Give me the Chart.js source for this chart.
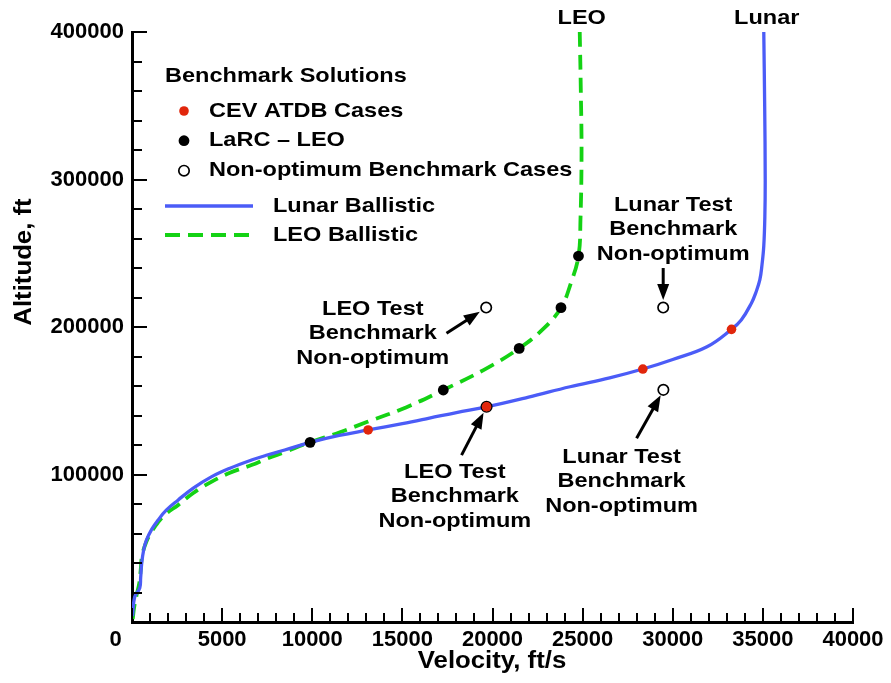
<!DOCTYPE html>
<html>
<head>
<meta charset="utf-8">
<script src="https://cdn.jsdelivr.net/npm/chart.js@4.4.1/dist/chart.umd.min.js"></script>
<style>
  html, body { margin: 0; padding: 0; background: #fff; }
  canvas { display: block; }
</style>
</head>
<body>
<canvas id="chart" width="891" height="683"></canvas>
<script>
// ---- Axis ticks ----
const velocityTicks = [0, 5000, 10000, 15000, 20000, 25000, 30000, 35000, 40000];
const altitudeTicks = [100000, 200000, 300000, 400000];

// ---- Lunar ballistic trajectory (velocity ft/s, altitude ft) ----
const lunarVelocity = [30, 150, 430, 480, 540, 650, 800, 1100, 1440, 1900, 2550, 3400, 4400, 5400, 6630, 7500, 8470, 9880,
  11500, 13100, 15000, 16500, 18000, 19670, 22000, 24300, 26500, 28340, 30000, 31900,
  33260, 33800, 34370, 34600, 34830, 34950, 35050, 35110, 35130, 35100, 35050];
const lunarAltitude = [4000, 17000, 23000, 30000, 40000, 49000, 55500, 63000, 69000, 75800, 82600, 90800, 98400, 104100, 109800, 113200, 116600, 121800,
  126500, 130200, 134500, 138200, 142000, 145900, 152500, 159500, 165500, 171500, 178000, 186600,
  198400, 204700, 216300, 223000, 231900, 242000, 255000, 275000, 300000, 350000, 400000];

// ---- LEO ballistic trajectory ----
const leoVelocity = [40, 120, 250, 400, 480, 560, 800, 1100, 1440, 1900, 2550, 3400, 4400, 5400, 6630, 7500, 8470, 9880,
  11500, 13060, 15200, 17270, 19500, 21480, 22800, 23800, 24350, 24770, 24880, 24940, 24900, 24840];
const leoAltitude = [2000, 10000, 18000, 26000, 35000, 45000, 54500, 61500, 67500, 73500, 79200, 87500, 95000, 101000, 106400, 110800, 115200, 121800,
  128500, 135700, 145500, 157300, 170800, 185500, 198500, 213100, 229800, 248100, 272600, 318000, 360000, 400000];

// ---- Benchmark solution points ----
const cevVelocity = [13100, 19670, 28340, 33260];
const cevAltitude = [130200, 145900, 171500, 198400];
const larcVelocity = [9880, 17270, 21480, 23800, 24770];
const larcAltitude = [121800, 157300, 185500, 213100, 248100];
const nonOptVelocity = [19650, 19670, 29470, 29480];
const nonOptAltitude = [213200, 145900, 213200, 157400];

const seriesLabels = ['CEV ATDB Cases', 'LaRC \u2013 LEO', 'Non-optimum Benchmark Cases', 'Lunar Ballistic', 'LEO Ballistic'];
const legendTitle = 'Benchmark Solutions';
const curveNames = ['Lunar', 'LEO'];
const noteLines = [
  ['LEO Test', 'Benchmark', 'Non-optimum'],
  ['LEO Test', 'Benchmark', 'Non-optimum'],
  ['Lunar Test', 'Benchmark', 'Non-optimum'],
  ['Lunar Test', 'Benchmark', 'Non-optimum']
];
const xTitle = 'Velocity, ft/s';
const yTitle = 'Altitude, ft';

const pairs = (xs, ys) => xs.map((x, i) => ({ x: x, y: ys[i] }));

const BLUE = '#4b5cf7';
const GREEN = '#14d214';
const RED = '#e1260c';
const FONT = '"Liberation Sans", Arial, Helvetica, sans-serif';

// Callout placement: which benchmark point each note targets, and pixel offsets from it
const noteLayout = [
  { target: [nonOptVelocity[0], nonOptAltitude[0]], tip: [-6.4, 4.2], tail: [-39.7, 25.8], text: [-113.4, 1.5] },
  { target: [nonOptVelocity[1], nonOptAltitude[1]], tip: [-3, 6], tail: [-25, 48.3], text: [-31.7, 65.3] },
  { target: [nonOptVelocity[3], nonOptAltitude[3]], tip: [-2.7, 5.4], tail: [-26.8, 48.5], text: [-41.8, 66.9] },
  { target: [nonOptVelocity[2], nonOptAltitude[2]], tip: [0, -7.5], tail: [0, -39.5], text: [10, -102.5] }
];

function stretchText(ctx, text, x, y, size, align, sx) {
  ctx.save();
  ctx.font = 'bold ' + size + 'px ' + FONT;
  ctx.translate(x, y);
  ctx.scale(sx, 1);
  ctx.textAlign = align;
  ctx.textBaseline = 'middle';
  ctx.fillStyle = '#000';
  ctx.fillText(text, 0, 0);
  ctx.restore();
}

function arrow(ctx, x1, y1, x2, y2) {
  const a = Math.atan2(y2 - y1, x2 - x1);
  const c = Math.cos(a), s = Math.sin(a);
  const hl = 16, hw = 6;
  ctx.save();
  ctx.strokeStyle = '#000';
  ctx.fillStyle = '#000';
  ctx.lineWidth = 3;
  ctx.beginPath();
  ctx.moveTo(x1, y1);
  ctx.lineTo(x2 - hl * 0.8 * c, y2 - hl * 0.8 * s);
  ctx.stroke();
  ctx.beginPath();
  ctx.moveTo(x2, y2);
  ctx.lineTo(x2 - hl * c + hw * s, y2 - hl * s - hw * c);
  ctx.lineTo(x2 - hl * c - hw * s, y2 - hl * s + hw * c);
  ctx.closePath();
  ctx.fill();
  ctx.restore();
}

const decorPlugin = {
  id: 'decor',
  afterDraw(chart) {
    const ctx = chart.ctx;
    const xs = chart.scales.x, ys = chart.scales.y;
    const area = chart.chartArea;

    // inward tick marks, minor every 1000 ft/s and 20000 ft
    ctx.save();
    ctx.strokeStyle = '#000';
    ctx.lineWidth = 2;
    for (let v = 0; v <= xs.max; v += 1000) {
      const px = Math.round(xs.getPixelForValue(v));
      const len = v % 5000 === 0 ? 14 : 9;
      ctx.beginPath();
      ctx.moveTo(px, area.bottom);
      ctx.lineTo(px, area.bottom - len);
      ctx.stroke();
    }
    for (let h = 0; h <= ys.max; h += 20000) {
      const py = Math.round(ys.getPixelForValue(h));
      const len = h % 100000 === 0 ? 15 : 10;
      ctx.beginPath();
      ctx.moveTo(area.left, py);
      ctx.lineTo(area.left + len, py);
      ctx.stroke();
    }
    ctx.restore();

    // axis titles
    stretchText(ctx, xTitle, (area.left + area.right) / 2 - 0.5, 662, 23, 'center', 1.12);
    ctx.save();
    ctx.translate(25, 262);
    ctx.rotate(-Math.PI / 2);
    stretchText(ctx, yTitle, 0, 0, 23, 'center', 1.12);
    ctx.restore();

    // curve end labels
    const lunarTop = chart.getDatasetMeta(3).data;
    const leoTop = chart.getDatasetMeta(4).data;
    const lt = lunarTop[lunarTop.length - 1], et = leoTop[leoTop.length - 1];
    stretchText(ctx, curveNames[0], lt.x + 3, lt.y - 14, 21, 'center', 1.12);
    stretchText(ctx, curveNames[1], et.x + 2, et.y - 14, 21, 'center', 1.12);

    // legend
    const lx = area.left + 33;
    stretchText(ctx, legendTitle, lx, 76.5, 21, 'left', 1.12);
    const markerRows = [111, 140.7, 170.7];
    for (let i = 0; i < 3; i++) {
      const ds = chart.data.datasets[i];
      ctx.save();
      ctx.beginPath();
      ctx.arc(lx + 19, markerRows[i], ds.pointRadius, 0, Math.PI * 2);
      ctx.fillStyle = ds.pointBackgroundColor;
      ctx.fill();
      if (ds.pointBorderWidth > 0) {
        ctx.lineWidth = ds.pointBorderWidth;
        ctx.strokeStyle = ds.pointBorderColor;
        ctx.stroke();
      }
      ctx.restore();
      stretchText(ctx, ds.label, lx + 44, markerRows[i], 21, 'left', 1.12);
    }
    const lineRows = [206, 235];
    for (let i = 0; i < 2; i++) {
      const ds = chart.data.datasets[3 + i];
      ctx.save();
      ctx.strokeStyle = ds.borderColor;
      ctx.lineWidth = ds.borderWidth;
      ctx.setLineDash(ds.borderDash || []);
      ctx.beginPath();
      ctx.moveTo(lx, lineRows[i]);
      ctx.lineTo(lx + 88, lineRows[i]);
      ctx.stroke();
      ctx.restore();
      stretchText(ctx, ds.label, lx + 108, lineRows[i], 21, 'left', 1.12);
    }

    // callouts
    noteLayout.forEach((n, k) => {
      const tx = xs.getPixelForValue(n.target[0]);
      const ty = ys.getPixelForValue(n.target[1]);
      arrow(ctx, tx + n.tail[0], ty + n.tail[1], tx + n.tip[0], ty + n.tip[1]);
      noteLines[k].forEach((line, j) => {
        stretchText(ctx, line, tx + n.text[0], ty + n.text[1] + j * 24.5, 21, 'center', 1.12);
      });
    });
  }
};

Chart.defaults.font.family = FONT;
Chart.defaults.color = '#000';

new Chart(document.getElementById('chart'), {
  type: 'scatter',
  data: {
    datasets: [
      {
        label: seriesLabels[0], data: pairs(cevVelocity, cevAltitude), showLine: false,
        pointRadius: 4.8, pointBackgroundColor: RED, pointBorderWidth: 0, pointBorderColor: RED
      },
      {
        label: seriesLabels[1], data: pairs(larcVelocity, larcAltitude), showLine: false,
        pointRadius: 5.4, pointBackgroundColor: '#000', pointBorderWidth: 0, pointBorderColor: '#000'
      },
      {
        label: seriesLabels[2], data: pairs(nonOptVelocity, nonOptAltitude), showLine: false,
        pointRadius: 5.2, pointBackgroundColor: '#fff', pointBorderWidth: 1.7, pointBorderColor: '#000'
      },
      {
        label: seriesLabels[3], data: pairs(lunarVelocity, lunarAltitude), showLine: true,
        borderColor: BLUE, borderWidth: 3.3, pointRadius: 0, tension: 0.4, fill: false
      },
      {
        label: seriesLabels[4], data: pairs(leoVelocity, leoAltitude), showLine: true,
        borderColor: GREEN, borderWidth: 3.8, borderDash: [15, 8], pointRadius: 0, tension: 0.4, fill: false
      }
    ]
  },
  options: {
    responsive: false,
    devicePixelRatio: 1,
    animation: false,
    events: [],
    layout: { padding: { left: 0, right: 38, top: 32, bottom: 0 } },
    plugins: { legend: { display: false }, tooltip: { enabled: false } },
    scales: {
      x: {
        type: 'linear', min: 0, max: 40000,
        afterBuildTicks: s => { s.ticks = velocityTicks.map(v => ({ value: v })); },
        afterFit: s => { s.height = 61; },
        ticks: {
          autoSkip: false, maxRotation: 0, padding: 5, color: '#000',
          font: { size: 22, weight: 'bold' },
          callback: v => v === 0 ? '0\u2002\u2002\u2002' : String(v)
        },
        grid: { display: false, drawTicks: false },
        border: { display: true, color: '#000', width: 3 }
      },
      y: {
        type: 'linear', min: 0, max: 400000,
        afterBuildTicks: s => { s.ticks = altitudeTicks.map(v => ({ value: v })); },
        afterFit: s => { s.width = 132; },
        ticks: {
          autoSkip: false, padding: 8, color: '#000',
          font: { size: 22, weight: 'bold' },
          callback: v => String(v)
        },
        grid: { display: false, drawTicks: false },
        border: { display: true, color: '#000', width: 3 }
      }
    }
  },
  plugins: [decorPlugin]
});
</script>
</body>
</html>
